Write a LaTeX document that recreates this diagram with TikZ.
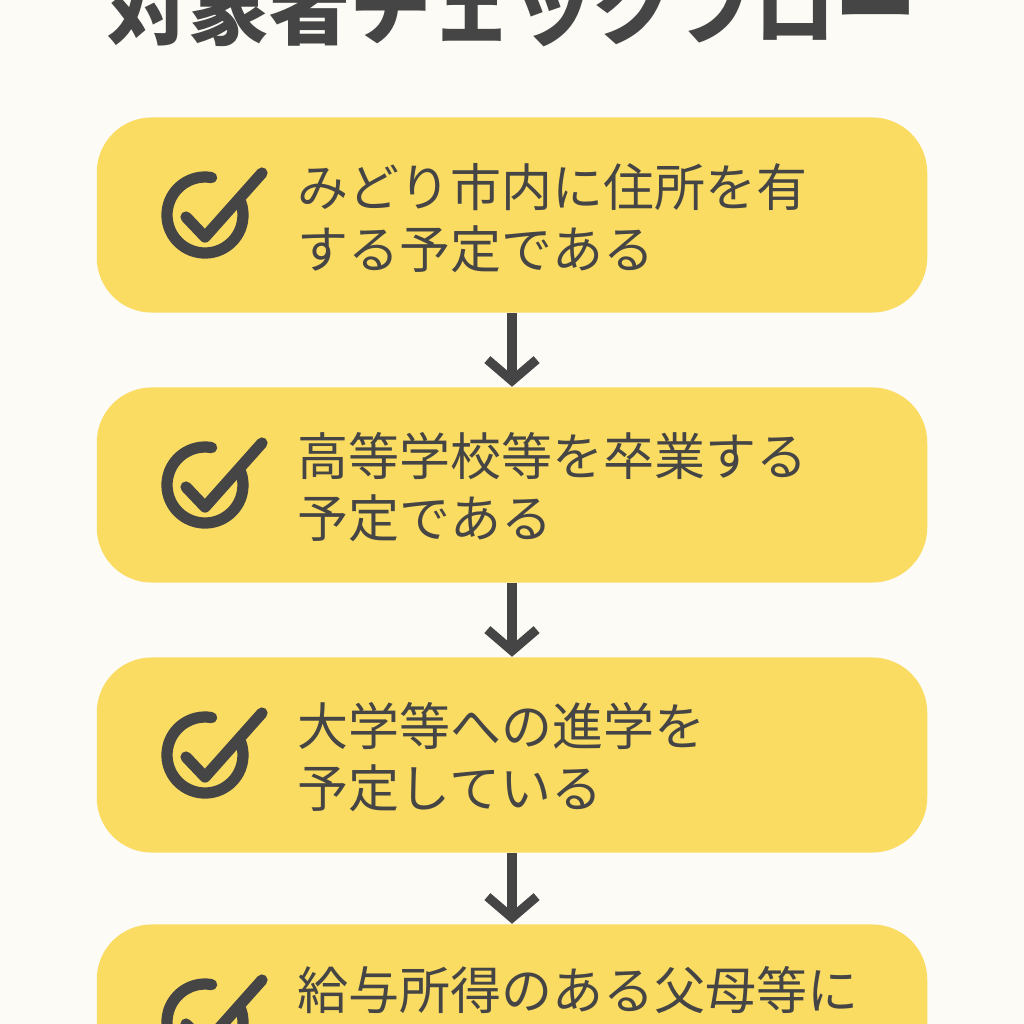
\documentclass[tikz,border=0pt]{standalone}
\usepackage{fontspec}
\newfontfamily\cjk{Noto Sans CJK JP}
\usetikzlibrary{positioning,arrows.meta}
\definecolor{bgcol}{HTML}{FCFBF5}
\definecolor{boxcol}{HTML}{FBDC62}
\definecolor{inkcol}{HTML}{454545}
\begin{document}
\begin{tikzpicture}[x=0.01cm,y=-0.01cm]

    % Styles
    \tikzstyle{flowbox} = [rectangle, rounded corners=0.55cm, minimum width=8.3cm, minimum height=1.95cm, fill=boxcol, inner sep=0]
    \tikzstyle{flowtext} = [text=inkcol, font=\cjk\fontsize{14.5}{17.6}\selectfont, align=left, anchor=west, inner sep=0]
    \tikzstyle{arrow} = [line width=2.6pt, draw=inkcol, -{Straight Barb[length=6pt,width=14pt,line width=2.6pt]}]
    \tikzstyle{tick} = [line width=3.2pt, draw=inkcol, line cap=round, line join=round]

    % Fond
    \fill[bgcol] (0,0) rectangle (1024,1024);
    \useasboundingbox (0,0) rectangle (1024,1024);

    % Titre
    \node (title) [text=inkcol, font=\cjk\bfseries\fontsize{23}{23}\selectfont] at (512,8) {対象者チェックフロー};

    % Boites
    \node (s1) [flowbox] at (512,215) {};
    \node (s2) [flowbox] at (512,485) {};
    \node (s3) [flowbox] at (512,755) {};
    \node (s4) [flowbox] at (512,1022) {};

    \node (t1) [flowtext] at (297,218) {みどり市内に住所を有\\する予定である};
    \node (t2) [flowtext] at (297,487) {高等学校等を卒業する\\予定である};
    \node (t3) [flowtext] at (297,757) {大学等への進学を\\予定している};
    \node (t4) [flowtext] at (297,990) {給与所得のある父母等に};

    % Coches
    \foreach \y in {215,485,755,1022} {
        \draw [tick] (211.6,\y-37.4) arc (280:-20:38);
        \draw [tick] (186,\y+2) -- (205,\y+22) -- (262,\y-42);
    }

    % Fleches
    \draw [arrow] (s1) -- (s2);
    \draw [arrow] (s2) -- (s3);
    \draw [arrow] (s3) -- (s4);

\end{tikzpicture}
\end{document}
